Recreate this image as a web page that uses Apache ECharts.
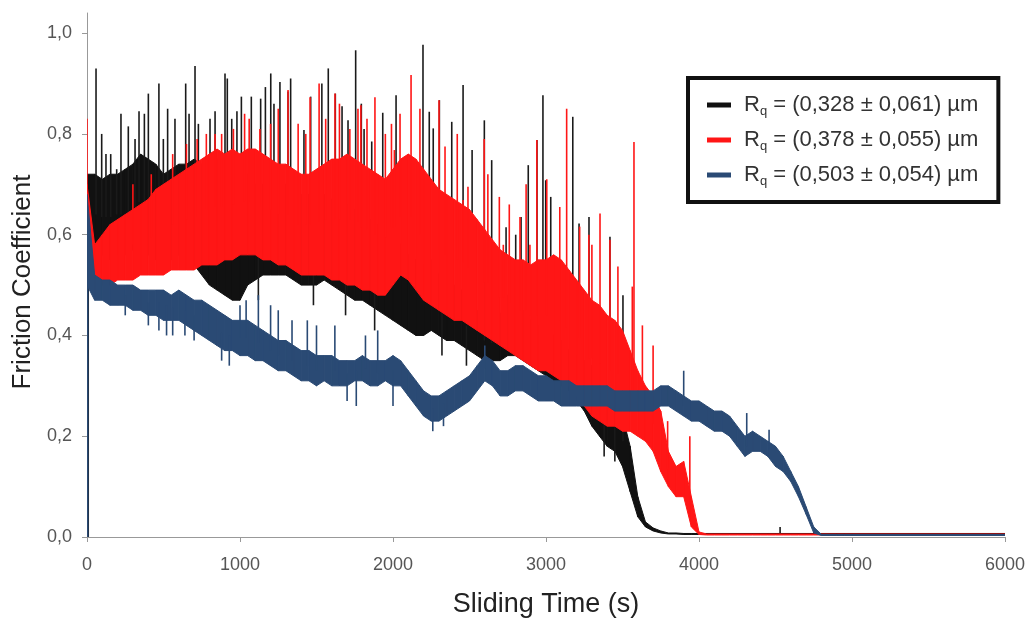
<!DOCTYPE html>
<html>
<head>
<meta charset="utf-8">
<script src="https://cdn.jsdelivr.net/npm/echarts@6/dist/echarts.min.js"></script>
<style>
  html, body { margin: 0; padding: 0; background: #fff; }
  #chart { width: 1027px; height: 619px; }
</style>
</head>
<body>
<div id="chart"></div>
<script>
// sampling times (s) for the band readings
const TIME = [
  0, 50, 100, 150, 200, 250, 300, 350, 400, 450,
  500, 550, 600, 650, 700, 750, 800, 850, 900, 950,
  1000, 1050, 1100, 1150, 1200, 1250, 1300, 1350, 1400, 1450,
  1500, 1550, 1600, 1650, 1700, 1750, 1800, 1850, 1900, 1950,
  2000, 2050, 2100, 2150, 2200, 2250, 2300, 2350, 2400, 2450,
  2500, 2550, 2600, 2650, 2700, 2750, 2800, 2850, 2900, 2950,
  3000, 3050, 3100, 3150, 3200, 3250, 3300, 3350, 3400, 3450,
  3500, 3550, 3600, 3650, 3700, 3750, 3800, 3850, 3900, 3950,
  4000, 4050, 4100, 4150, 4200, 4250, 4300, 4350, 4400, 4450,
  4500, 4550, 4600, 4650, 4700, 4750, 4800, 4850, 4900, 4950,
  5000, 6000
];

// Rq = 0,328 (black): lower / upper edge of the dense noise band
const BLACK_LOW = [
  0.57, 0.56, 0.56, 0.55, 0.56, 0.56, 0.57, 0.57, 0.56, 0.55,
  0.55, 0.55, 0.56, 0.55, 0.54, 0.52, 0.50, 0.49, 0.48, 0.47,
  0.47, 0.50, 0.51, 0.52, 0.52, 0.52, 0.52, 0.51, 0.50, 0.50,
  0.50, 0.51, 0.50, 0.49, 0.48, 0.47, 0.47, 0.46, 0.45, 0.44,
  0.43, 0.42, 0.41, 0.40, 0.40, 0.41, 0.40, 0.39, 0.39, 0.38,
  0.37, 0.36, 0.35, 0.35, 0.35, 0.36, 0.36, 0.35, 0.34, 0.33,
  0.32, 0.31, 0.30, 0.29, 0.27, 0.25, 0.22, 0.20, 0.18, 0.17,
  0.14, 0.09, 0.04, 0.02, 0.012, 0.008, 0.006, 0.006, 0.005, 0.005,
  0.005, 0.005, 0.005, 0.005, 0.005, 0.005, 0.005, 0.005, 0.005, 0.005,
  0.005, 0.005, 0.005, 0.005, 0.005, 0.005, 0.005, 0.005, 0.005, 0.005,
  0.005, 0.005
];
const BLACK_HIGH = [
  0.72, 0.72, 0.71, 0.72, 0.72, 0.73, 0.74, 0.76, 0.75, 0.74,
  0.72, 0.73, 0.74, 0.74, 0.75, 0.74, 0.75, 0.75, 0.75, 0.75,
  0.74, 0.72, 0.70, 0.70, 0.72, 0.70, 0.70, 0.69, 0.68, 0.68,
  0.67, 0.68, 0.67, 0.66, 0.66, 0.65, 0.64, 0.63, 0.62, 0.62,
  0.60, 0.58, 0.56, 0.55, 0.54, 0.55, 0.52, 0.51, 0.50, 0.49,
  0.47, 0.45, 0.43, 0.42, 0.44, 0.48, 0.47, 0.45, 0.43, 0.42,
  0.41, 0.40, 0.39, 0.37, 0.36, 0.35, 0.34, 0.32, 0.30, 0.28,
  0.24, 0.18, 0.08, 0.03, 0.018, 0.012, 0.008, 0.008, 0.007, 0.007,
  0.007, 0.007, 0.007, 0.007, 0.007, 0.007, 0.007, 0.007, 0.007, 0.007,
  0.007, 0.007, 0.007, 0.007, 0.007, 0.007, 0.007, 0.007, 0.007, 0.007,
  0.007, 0.007
];

// Rq = 0,378 (red)
const RED_LOW = [
  0.55, 0.48, 0.50, 0.50, 0.51, 0.51, 0.51, 0.52, 0.52, 0.52,
  0.52, 0.53, 0.53, 0.53, 0.53, 0.54, 0.54, 0.54, 0.55, 0.55,
  0.56, 0.56, 0.56, 0.55, 0.55, 0.54, 0.54, 0.53, 0.52, 0.52,
  0.52, 0.52, 0.51, 0.51, 0.50, 0.50, 0.49, 0.49, 0.48, 0.48,
  0.50, 0.52, 0.51, 0.49, 0.47, 0.46, 0.45, 0.44, 0.43, 0.43,
  0.42, 0.41, 0.40, 0.39, 0.38, 0.37, 0.36, 0.35, 0.34, 0.33,
  0.33, 0.32, 0.31, 0.30, 0.28, 0.26, 0.24, 0.23, 0.22, 0.22,
  0.21, 0.21, 0.20, 0.19, 0.17, 0.13, 0.10, 0.08, 0.08, 0.02,
  0.005, 0.004, 0.004, 0.004, 0.004, 0.004, 0.004, 0.004, 0.004, 0.004,
  0.004, 0.004, 0.004, 0.004, 0.004, 0.004, 0.004, 0.004, 0.004, 0.004,
  0.004, 0.004
];
const RED_HIGH = [
  0.70, 0.58, 0.60, 0.62, 0.63, 0.64, 0.65, 0.66, 0.67, 0.69,
  0.70, 0.71, 0.72, 0.73, 0.74, 0.75, 0.76, 0.77, 0.76, 0.77,
  0.76, 0.77, 0.77, 0.76, 0.75, 0.74, 0.74, 0.73, 0.72, 0.72,
  0.73, 0.74, 0.75, 0.75, 0.76, 0.75, 0.74, 0.73, 0.72, 0.71,
  0.73, 0.75, 0.76, 0.75, 0.73, 0.71, 0.69, 0.68, 0.67, 0.66,
  0.65, 0.63, 0.61, 0.59, 0.57, 0.56, 0.55, 0.55, 0.54, 0.55,
  0.55, 0.56, 0.55, 0.53, 0.51, 0.49, 0.47, 0.46, 0.44, 0.43,
  0.41, 0.37, 0.33, 0.30, 0.28, 0.25, 0.17, 0.14, 0.15, 0.08,
  0.01, 0.006, 0.006, 0.006, 0.006, 0.006, 0.006, 0.006, 0.006, 0.006,
  0.006, 0.006, 0.006, 0.006, 0.006, 0.006, 0.006, 0.006, 0.006, 0.006,
  0.006, 0.006
];

// Rq = 0,503 (blue)
const BLUE_LOW = [
  0.50, 0.47, 0.47, 0.46, 0.46, 0.46, 0.45, 0.45, 0.44, 0.44,
  0.43, 0.43, 0.43, 0.42, 0.41, 0.40, 0.39, 0.38, 0.37, 0.37,
  0.36, 0.36, 0.35, 0.35, 0.34, 0.33, 0.33, 0.32, 0.31, 0.31,
  0.30, 0.31, 0.30, 0.30, 0.30, 0.31, 0.31, 0.30, 0.30, 0.31,
  0.30, 0.30, 0.28, 0.26, 0.24, 0.23, 0.23, 0.24, 0.25, 0.26,
  0.27, 0.29, 0.31, 0.30, 0.28, 0.28, 0.29, 0.29, 0.28, 0.27,
  0.27, 0.27, 0.26, 0.26, 0.26, 0.26, 0.26, 0.26, 0.26, 0.25,
  0.25, 0.25, 0.25, 0.25, 0.25, 0.26, 0.26, 0.25, 0.24, 0.23,
  0.23, 0.22, 0.21, 0.21, 0.20, 0.18, 0.16, 0.17, 0.17, 0.16,
  0.14, 0.13, 0.11, 0.08, 0.045, 0.008, 0.003, 0.003, 0.003, 0.003,
  0.003, 0.003
];
const BLUE_HIGH = [
  0.68, 0.52, 0.51, 0.51, 0.50, 0.50, 0.50, 0.49, 0.49, 0.49,
  0.49, 0.48, 0.49, 0.48, 0.47, 0.47, 0.46, 0.45, 0.44, 0.43,
  0.43, 0.43, 0.42, 0.41, 0.40, 0.39, 0.39, 0.38, 0.37, 0.37,
  0.36, 0.36, 0.36, 0.35, 0.35, 0.35, 0.36, 0.35, 0.35, 0.35,
  0.36, 0.35, 0.33, 0.31, 0.29, 0.28, 0.28, 0.29, 0.30, 0.31,
  0.32, 0.34, 0.36, 0.35, 0.33, 0.33, 0.34, 0.34, 0.33, 0.32,
  0.32, 0.31, 0.31, 0.31, 0.30, 0.30, 0.30, 0.30, 0.30, 0.29,
  0.29, 0.29, 0.29, 0.29, 0.29, 0.30, 0.30, 0.29, 0.28, 0.27,
  0.27, 0.26, 0.25, 0.25, 0.24, 0.22, 0.20, 0.21, 0.20, 0.19,
  0.18, 0.16, 0.13, 0.10, 0.06, 0.02, 0.005, 0.005, 0.005, 0.005,
  0.005, 0.005
];

// isolated spikes [time, value]
const BLACK_SPIKES = [
  [8, 0], [59, 0.93], [96, 0.80], [124, 0.76], [155, 0.76], [194, 0.73], [222, 0.84], [270, 0.815],
  [314, 0.79], [340, 0.845], [375, 0.84], [401, 0.88], [470, 0.90], [499, 0.79], [527, 0.85], [575, 0.83],
  [645, 0.90], [667, 0.84], [706, 0.935], [728, 0.82], [804, 0.83], [837, 0.845], [902, 0.92], [917, 0.91],
  [946, 0.83], [980, 0.845], [1009, 0.874], [1074, 0.874], [1120, 0.47], [1135, 0.87], [1166, 0.893],
  [1201, 0.92], [1222, 0.86], [1261, 0.903], [1314, 0.884], [1331, 0.91], [1418, 0.808], [1462, 0.874],
  [1480, 0.46], [1535, 0.90], [1577, 0.93], [1623, 0.88], [1667, 0.855], [1690, 0.44], [1706, 0.827],
  [1756, 0.966], [1793, 0.86], [1811, 0.81], [1861, 0.785], [1880, 0.41], [1933, 0.842], [2020, 0.877],
  [2196, 0.977], [2237, 0.844], [2263, 0.811], [2303, 0.867], [2320, 0.36], [2384, 0.824], [2458, 0.897],
  [2480, 0.34], [2517, 0.768], [2597, 0.827], [2645, 0.748], [2739, 0.615], [2802, 0.60], [2837, 0.635],
  [2884, 0.738], [2941, 0.788], [2980, 0.877], [2998, 0.708], [3031, 0.675], [3175, 0.834], [3216, 0.622],
  [3281, 0.635], [3380, 0.16], [3418, 0.596], [3450, 0.15], [3503, 0.48], [4530, 0.02]
];
const RED_SPIKES = [
  [0, 0.83], [300, 0.70], [420, 0.72], [560, 0.76], [650, 0.78], [720, 0.79], [780, 0.80], [837, 0.80],
  [880, 0.80], [957, 0.81], [1030, 0.84], [1060, 0.83], [1130, 0.81], [1200, 0.82], [1250, 0.85],
  [1314, 0.887], [1380, 0.82], [1430, 0.80], [1458, 0.873], [1517, 0.90], [1560, 0.83], [1621, 0.88],
  [1650, 0.86], [1718, 0.81], [1771, 0.85], [1790, 0.857], [1830, 0.83], [1882, 0.873], [1950, 0.80],
  [1990, 0.82], [2009, 0.768], [2046, 0.84], [2118, 0.917], [2176, 0.85], [2301, 0.867], [2340, 0.775],
  [2420, 0.80], [2458, 0.669], [2490, 0.695], [2596, 0.79], [2620, 0.72], [2695, 0.675], [2721, 0.58],
  [2760, 0.66], [2830, 0.635], [2870, 0.70], [2895, 0.58], [2940, 0.788], [3005, 0.71], [3090, 0.655],
  [3135, 0.85], [3220, 0.616], [3280, 0.60], [3300, 0.58], [3353, 0.642], [3418, 0.59], [3470, 0.537],
  [3564, 0.497], [3575, 0.784], [3630, 0.42], [3700, 0.38], [3795, 0.23], [3940, 0.20]
];
const BLUE_SPIKES = [
  [5, 0], [250, 0.44], [401, 0.42], [470, 0.41], [520, 0.40], [560, 0.40], [640, 0.40], [700, 0.39],
  [880, 0.35], [930, 0.34], [1000, 0.46], [1040, 0.47], [1120, 0.48], [1200, 0.46], [1250, 0.45],
  [1340, 0.43], [1440, 0.43], [1500, 0.42], [1620, 0.42], [1700, 0.27], [1760, 0.26], [1820, 0.40],
  [1900, 0.41], [2000, 0.26], [2260, 0.21], [2330, 0.22], [2600, 0.38], [3900, 0.33], [4312, 0.246],
  [4458, 0.213]
];

const LEGEND_LABELS = ['(0,328 ± 0,061) µm', '(0,378 ± 0,055) µm', '(0,503 ± 0,054) µm'];
const COLORS = ['#111111', '#ff1616', '#2a4a74'];
const Y_TICKS = [0, 0.2, 0.4, 0.6, 0.8, 1.0];
const FONT = '"Liberation Sans", Arial, sans-serif';

function nearestIndex(t) {
  let best = 0;
  for (let i = 1; i < TIME.length; i++) {
    if (Math.abs(TIME[i] - t) < Math.abs(TIME[best] - t)) best = i;
  }
  return best;
}

// one quad per sampling interval, between the low and high edges
function bandSeries(name, low, high, color) {
  const rows = [];
  for (let i = 0; i < TIME.length - 1; i++) {
    rows.push([TIME[i], low[i], high[i], TIME[i + 1], low[i + 1], high[i + 1]]);
  }
  return {
    name: name,
    type: 'custom',
    data: rows,
    encode: { x: [0, 3], y: [1, 2, 4, 5] },
    itemStyle: { color: color },
    silent: true,
    clip: true,
    renderItem: function(params, api) {
      const a = api.coord([api.value(0), api.value(1)]);
      const b = api.coord([api.value(3), api.value(4)]);
      const c = api.coord([api.value(3), api.value(5)]);
      const d = api.coord([api.value(0), api.value(2)]);
      return {
        type: 'polygon',
        shape: { points: [a, b, c, d] },
        style: { fill: color, stroke: color, lineWidth: 1 }
      };
    }
  };
}

function spikeSeries(name, spikes, low, high, color) {
  return {
    name: name + ' spikes',
    type: 'custom',
    data: spikes,
    silent: true,
    clip: true,
    renderItem: function(params, api) {
      const t = api.value(0);
      const i = nearestIndex(t);
      const base = (low[i] + high[i]) / 2;
      const p0 = api.coord([t, base]);
      const p1 = api.coord([t, api.value(1)]);
      return {
        type: 'line',
        shape: { x1: p0[0], y1: p0[1], x2: p1[0], y2: p1[1] },
        style: { stroke: color, lineWidth: 1.6 }
      };
    }
  };
}

const chart = echarts.init(document.getElementById('chart'));

const option = {
  animation: false,
  backgroundColor: '#fff',
  grid: { left: 87, right: 22, top: 13, bottom: 82, outerBoundsMode: 'none' },
  legend: {
    data: LEGEND_LABELS,
    orient: 'vertical',
    left: 688,
    top: 78,
    padding: [16, 20, 14, 19],
    itemGap: 11,
    itemWidth: 24,
    itemHeight: 5,
    icon: 'rect',
    borderColor: '#111',
    borderWidth: 4,
    selectedMode: false,
    formatter: function(name) {
      return '{g|}{r|R}{q|q}{r| = ' + name + '}';
    },
    textStyle: {
      fontFamily: FONT,
      fontSize: 22,
      color: '#333',
      rich: {
        g: { width: 8 },
        r: { fontFamily: FONT, fontSize: 22, lineHeight: 26, color: '#333' },
        q: { fontFamily: FONT, fontSize: 13, lineHeight: 13, color: '#333', verticalAlign: 'bottom' }
      }
    }
  },
  xAxis: {
    type: 'value',
    min: 0,
    max: 6000,
    interval: 1000,
    name: 'Sliding Time (s)',
    nameLocation: 'middle',
    nameGap: 54,
    nameTextStyle: { fontFamily: FONT, fontSize: 27, color: '#222' },
    axisLine: { show: true, lineStyle: { color: '#999', width: 1 } },
    axisTick: { show: true, length: 5, lineStyle: { color: '#999' } },
    axisLabel: {
      fontFamily: FONT,
      fontSize: 18,
      color: '#555',
      margin: 19,
      formatter: function(value) {
        return String(value);
      }
    },
    splitLine: { show: false }
  },
  yAxis: {
    type: 'value',
    min: 0,
    max: 1.04,
    name: 'Friction Coefficient',
    nameLocation: 'middle',
    nameGap: 50,
    nameTextStyle: { fontFamily: FONT, fontSize: 26, color: '#222', padding: [0, 14, 0, 0] },
    axisLine: { show: true, lineStyle: { color: '#999', width: 1 } },
    axisTick: { show: true, length: 5, lineStyle: { color: '#999' }, customValues: Y_TICKS },
    axisLabel: {
      fontFamily: FONT,
      fontSize: 18,
      color: '#555',
      margin: 15,
      customValues: Y_TICKS,
      formatter: function(value) {
        return value.toFixed(1).replace('.', ',');
      }
    },
    splitLine: { show: false }
  },
  series: [
    bandSeries(LEGEND_LABELS[0], BLACK_LOW, BLACK_HIGH, COLORS[0]),
    spikeSeries(LEGEND_LABELS[0], BLACK_SPIKES, BLACK_LOW, BLACK_HIGH, '#1a1a1a'),
    bandSeries(LEGEND_LABELS[1], RED_LOW, RED_HIGH, COLORS[1]),
    spikeSeries(LEGEND_LABELS[1], RED_SPIKES, RED_LOW, RED_HIGH, COLORS[1]),
    bandSeries(LEGEND_LABELS[2], BLUE_LOW, BLUE_HIGH, COLORS[2]),
    spikeSeries(LEGEND_LABELS[2], BLUE_SPIKES, BLUE_LOW, BLUE_HIGH, COLORS[2])
  ]
};

chart.setOption(option);
</script>
</body>
</html>
